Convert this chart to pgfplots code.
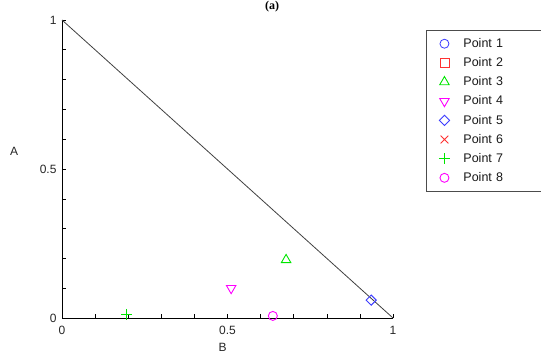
\documentclass[border=0pt]{standalone}
\usepackage{pgfplots}
\pgfplotsset{compat=1.18}
\usepackage{fontspec}
\setmainfont{Liberation Sans}
\newfontfamily\serifbold{Liberation Serif}
\definecolor{mblue}{RGB}{60,60,255}
\definecolor{mred}{RGB}{255,50,50}
\definecolor{mgreen}{RGB}{0,230,0}
\definecolor{mmag}{RGB}{255,0,255}
\begin{document}
\begin{tikzpicture}[x=1pt,y=1pt]
\useasboundingbox (0,0) rectangle (541,354);
\node[anchor=north, inner sep=0pt, font=\serifbold\bfseries\fontsize{12}{12}\selectfont] at (272,353) {(a)};
\begin{axis}[
  at={(62pt,36pt)}, anchor=origin,
  scale only axis, width=331pt, height=298pt,
  xmin=0, xmax=1, ymin=0, ymax=1,
  axis lines*=left, axis line style={-, black},
  xtick={0,0.5,1}, ytick={0,0.5,1},
  xticklabels={0,0.5,1}, yticklabels={0,0.5,1},
  minor tick num=4,
  tick align=inside,
  major tick length=4pt, minor tick length=4pt,
  tick style={black, line width=0.6pt},
  tick label style={font=\fontsize{12}{14}\selectfont, text=black!85},
  /pgf/number format/assume math mode=true,
  xticklabel style={yshift=-5pt},
  yticklabel style={xshift=-2pt},
  xlabel={B}, ylabel={A},
  label style={font=\fontsize{12}{14}\selectfont, text=black!85},
  xlabel style={at={(axis description cs:0.485,-0.10)}, anchor=center},
  ylabel style={rotate=-90, at={(axis description cs:-0.145,0.56)}, anchor=center},
  clip=false,
  legend style={at={(426pt-62pt,324pt-36pt)}, anchor=north west, draw=black!70, line width=0.9pt,
    font=\fontsize{12.5}{14}\selectfont, text=black!90, row sep=4.6pt,
    inner xsep=5pt, inner ysep=6pt, cells={anchor=west, text width=120pt}},
  legend image code/.code={\draw[#1] plot[only marks] coordinates {(13pt,0pt)};\path[draw=none] (0pt,0pt) (30pt,0pt);},
  legend cell align=left,
]
\addplot[forget plot, black!75, line width=0.8pt] coordinates {(0,1) (1,0)};
\addlegendimage{only marks, mark=o, mark size=4.5pt, color=mblue, mark options={line width=0.8pt}}
\addlegendentry{Point 1}
\addlegendimage{only marks, mark=square, mark size=4.5pt, color=mred, mark options={line width=0.8pt}}
\addlegendentry{Point 2}
\addplot[only marks, mark=triangle, mark size=5.5pt, color=mgreen, mark options={line width=0.9pt}] coordinates {(0.677,0.195)};
\addlegendentry{Point 3}
\addplot[only marks, mark=triangle, mark size=5.5pt, color=mmag, mark options={rotate=180, line width=0.9pt}] coordinates {(0.511,0.10)};
\addlegendentry{Point 4}
\addplot[only marks, mark=square, mark size=3.6pt, color=mblue, mark options={line width=0.9pt, rotate=45}] coordinates {(0.934,0.06)};
\addlegendentry{Point 5}
\addlegendimage{only marks, mark=x, mark size=5.5pt, color=mred, mark options={line width=0.8pt}}
\addlegendentry{Point 6}
\addplot[only marks, mark=+, mark size=5.5pt, color=mgreen, mark options={draw=mgreen, line width=1pt}] coordinates {(0.196,0.012)};
\addlegendentry{Point 7}
\addplot[only marks, mark=o, mark size=4.5pt, color=mmag, mark options={line width=0.9pt}] coordinates {(0.637,0.007)};
\addlegendentry{Point 8}
\end{axis}
\end{tikzpicture}
\end{document}
